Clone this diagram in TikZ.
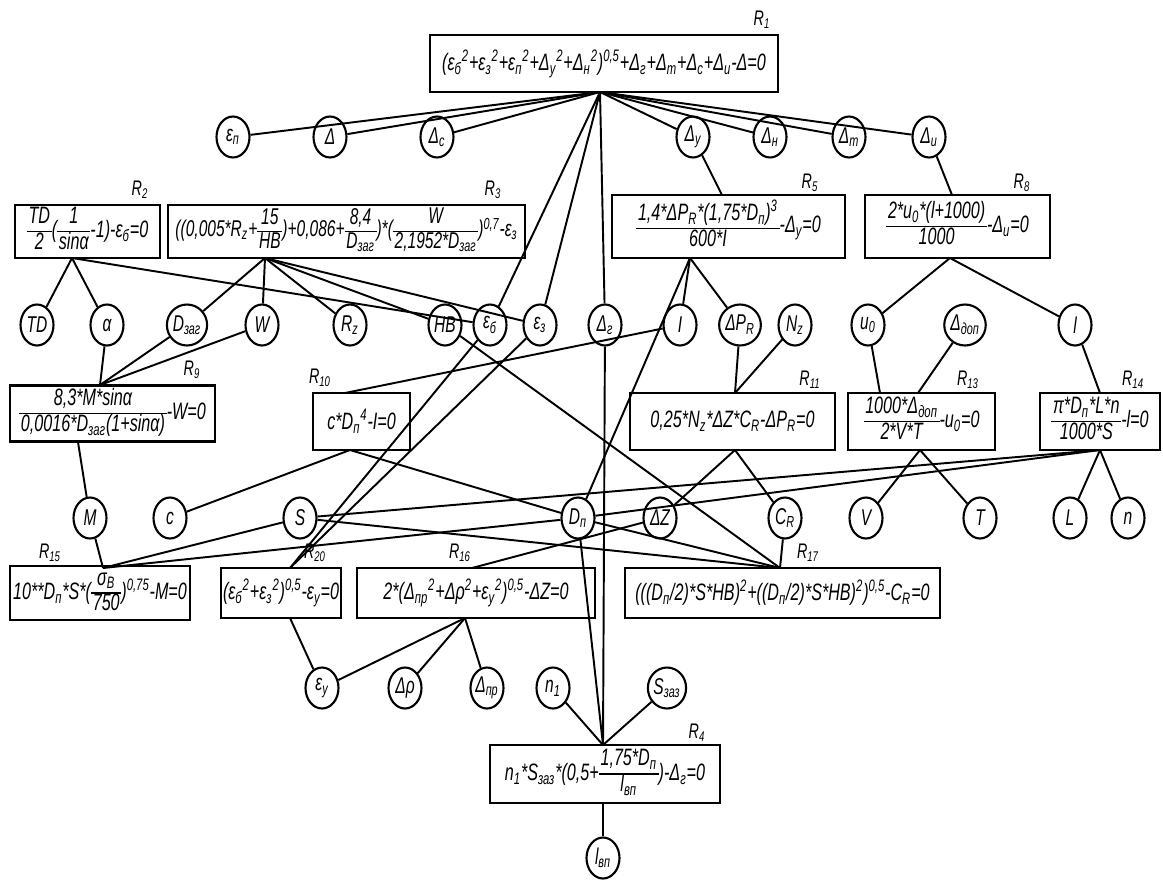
\documentclass[tikz,border=0pt]{standalone}
\usepackage{amsmath}
\usepackage{fontspec}
\setmainfont{Liberation Sans}[FakeStretch=0.68]
\usetikzlibrary{shapes.geometric}

\newcommand{\lo}[1]{\ensuremath{_{\text{#1}}}}
\newcommand{\hi}[1]{\ensuremath{^{\text{#1}}}}
\newcommand{\lohi}[2]{\lo{#1}\hi{#2}}
\newcommand{\fr}[2]{\ensuremath{\vcenter{\hbox{\def\arraystretch{0.92}\setlength{\arrayrulewidth}{0.8pt}\setlength{\tabcolsep}{1pt}\begin{tabular}{c}#1\\\hline #2\end{tabular}}}}}

\begin{document}
\begin{tikzpicture}[x=0.02cm,y=-0.02cm,
  eqn/.style={draw,line width=1.2pt,inner sep=1pt,font=\fontsize{13.5}{15}\selectfont\itshape},
  var/.style={draw,ellipse,line width=1.2pt,minimum width=0.66cm,minimum height=0.82cm,inner sep=0pt,font=\fontsize{13}{15}\selectfont\itshape},
  rlab/.style={font=\fontsize{12}{14}\selectfont\itshape},
  lnk/.style={line width=1.1pt}]
  \useasboundingbox (0,0) rectangle (1163,886);

  % equations
  \node[eqn,minimum width=6.96cm,minimum height=1.14cm] (R1) at (604,63.5) {(ε\lohi{б}{2}+ε\lohi{з}{2}+ε\lohi{п}{2}+Δ\lohi{у}{2}+Δ\lohi{н}{2})\hi{0,5}+Δ\lo{г}+Δ\lo{т}+Δ\lo{с}+Δ\lo{и}-Δ=0};
  \node[eqn,minimum width=2.9cm,minimum height=1.06cm] (R2) at (87.5,231.5) {\fr{TD}{2}(\fr{1}{sinα}-1)-ε\lo{б}=0};
  \node[eqn,minimum width=7.14cm,minimum height=1.06cm,font=\fontsize{13}{14}\selectfont\itshape] (R3) at (346.5,231.5) {((0,005*R\lo{z}+\fr{15}{HB})+0,086+\fr{8,4}{D\lo{заг}})*(\fr{W}{2,1952*D\lo{заг}})\hi{0,7}-ε\lo{з}};
  \node[eqn,minimum width=4.66cm,minimum height=1.26cm] (R5) at (728.5,226.5) {\fr{1,4*ΔP\lo{R}*(1,75*D\lo{п})\hi{3}}{600*I}-Δ\lo{у}=0};
  \node[eqn,minimum width=3.7cm,minimum height=1.26cm] (R8) at (957.5,226.5) {\fr{2*u\lo{0}*(l+1000)}{1000}-Δ\lo{и}=0};
  \node[eqn,minimum width=4.1cm,minimum height=1.12cm] (R9) at (112.5,413.5) {\fr{8,3*M*sinα}{0,0016*D\lo{заг}(1+sinα)}-W=0};
  \node[eqn,minimum width=1.94cm,minimum height=1.14cm] (R10) at (361.5,421.5) {c*D\lohi{п}{4}-I=0};
  \node[eqn,minimum width=4.1cm,minimum height=1.14cm] (R11) at (732.5,421.5) {0,25*N\lo{z}*ΔZ*C\lo{R}-ΔP\lo{R}=0};
  \node[eqn,minimum width=2.94cm,minimum height=1.14cm] (R13) at (921.5,421.5) {\fr{1000*Δ\lo{доп}}{2*V*T}-u\lo{0}=0};
  \node[eqn,minimum width=2.4cm,minimum height=1.14cm] (R14) at (1100,421.5) {\fr{π*D\lo{п}*L*n}{1000*S}-l=0};
  \node[eqn,minimum width=3.6cm,minimum height=1.0cm] (R15) at (100,593) {10**D\lo{п}*S*(\fr{σ\lo{В}}{750})\hi{0,75}-M=0};
  \node[eqn,minimum width=1.96cm,minimum height=1.0cm] (R20) at (281,593) {(ε\lohi{б}{2}+ε\lohi{з}{2})\hi{0,5}-ε\lo{у}=0};
  \node[eqn,minimum width=4.76cm,minimum height=1.0cm] (R16) at (476,593) {2*(Δ\lohi{пр}{2}+Δρ\hi{2}+ε\lohi{у}{2})\hi{0,5}-ΔZ=0};
  \node[eqn,minimum width=6.3cm,minimum height=1.0cm] (R17) at (782.5,593) {(((D\lo{п}/2)*S*HB)\hi{2}+((D\lo{п}/2)*S*HB)\hi{2})\hi{0,5}-C\lo{R}=0};
  \node[eqn,minimum width=4.6cm,minimum height=1.16cm] (R4) at (605,774) {n\lo{1}*S\lo{заз}*(0,5+\fr{1,75*D\lo{п}}{l\lo{вп}})-Δ\lo{г}=0};

  % equation numbers
  \node[rlab] (nR1) at (762,20) {R\lo{1}};
  \node[rlab] (nR2) at (140,190) {R\lo{2}};
  \node[rlab] (nR3) at (493,190) {R\lo{3}};
  \node[rlab] (nR5) at (810,183) {R\lo{5}};
  \node[rlab] (nR8) at (1022,183) {R\lo{8}};
  \node[rlab] (nR9) at (192,370) {R\lo{9}};
  \node[rlab] (nR10) at (320,378) {R\lo{10}};
  \node[rlab] (nR11) at (810,380) {R\lo{11}};
  \node[rlab] (nR13) at (968,380) {R\lo{13}};
  \node[rlab] (nR14) at (1133,380) {R\lo{14}};
  \node[rlab] (nR15) at (50,553) {R\lo{15}};
  \node[rlab] (nR20) at (315,553) {R\lo{20}};
  \node[rlab] (nR16) at (460,553) {R\lo{16}};
  \node[rlab] (nR17) at (808,553) {R\lo{17}};
  \node[rlab] (nR4) at (697,733) {R\lo{4}};

  % variables
  \node[var] (en) at (233,137) {ε\lo{п}};
  \node[var] (d) at (330,137) {Δ};
  \node[var] (dc) at (437,137) {Δ\lo{с}};
  \node[var] (dy) at (693,137) {Δ\lo{у}};
  \node[var] (dn) at (770,137) {Δ\lo{н}};
  \node[var] (dt) at (849,137) {Δ\lo{т}};
  \node[var] (di) at (929,137) {Δ\lo{и}};

  \node[var] (TD) at (37,325) {TD};
  \node[var] (al) at (107,325) {α};
  \node[var] (Dz) at (187,325) {D\lo{заг}};
  \node[var] (W) at (262,325) {W};
  \node[var] (Rz) at (350,325) {R\lo{z}};
  \node[var] (HB) at (445,325) {HB};
  \node[var] (eb) at (490,325) {ε\lo{б}};
  \node[var] (ez) at (540,325) {ε\lo{з}};
  \node[var] (dg) at (605,325) {Δ\lo{г}};
  \node[var] (I) at (680,325) {I};
  \node[var] (dPR) at (740,325) {ΔP\lo{R}};
  \node[var] (Nz) at (795,325) {N\lo{z}};
  \node[var] (u0) at (868,325) {u\lo{0}};
  \node[var] (ddop) at (965,325) {Δ\lo{доп}};
  \node[var] (l) at (1075,325) {l};

  \node[var] (M) at (90,518) {M};
  \node[var] (c) at (170,518) {c};
  \node[var] (S) at (300,518) {S};
  \node[var] (Dp) at (578,518) {D\lo{п}};
  \node[var] (dZ) at (660,518) {ΔZ};
  \node[var] (CR) at (785,518) {C\lo{R}};
  \node[var] (V) at (866,518) {V};
  \node[var] (T) at (980,518) {T};
  \node[var] (L) at (1070,518) {L};
  \node[var] (n) at (1128,518) {n};

  \node[var] (ey) at (322,688) {ε\lo{у}};
  \node[var] (drho) at (405,688) {Δρ};
  \node[var] (dpr) at (487,688) {Δ\lo{пр}};
  \node[var] (n1) at (553,688) {n\lo{1}};
  \node[var] (Sz) at (667,688) {S\lo{заз}};
  \node[var] (lvp) at (603,858) {l\lo{вп}};

  % junction points on the boxes
  \coordinate (R1b) at (600,92);
  \coordinate (R2b) at (72,258);
  \coordinate (R3b) at (265,258);
  \coordinate (R5t) at (722,195);
  \coordinate (R5b) at (690,258);
  \coordinate (R8t) at (952,195);
  \coordinate (R8b) at (950,258);
  \coordinate (R9t) at (100,385);
  \coordinate (R9b) at (78,442);
  \coordinate (R10t) at (345,393);
  \coordinate (R10b) at (350,450);
  \coordinate (R11t) at (735,393);
  \coordinate (R11b) at (735,450);
  \coordinate (R13t) at (880,393);
  \coordinate (R13u) at (918,393);
  \coordinate (R13b) at (920,450);
  \coordinate (R14t) at (1100,393);
  \coordinate (R14b) at (1100,450);
  \coordinate (R15t) at (103,568);
  \coordinate (R20t) at (290,568);
  \coordinate (R20b) at (290,618);
  \coordinate (R16t) at (472,568);
  \coordinate (R16b) at (465,618);
  \coordinate (R17t) at (780,568);
  \coordinate (R4t) at (603,745);
  \coordinate (R4b) at (603,803);

  % links
  \foreach \v in {en,d,dc,dy,dn,dt,di,eb,ez,dg}
    \draw[lnk] (R1b) -- (\v);
  \foreach \v in {TD,al,eb} \draw[lnk] (R2b) -- (\v);
  \foreach \v in {Dz,W,Rz,HB,ez} \draw[lnk] (R3b) -- (\v);
  \draw[lnk] (R5t) -- (dy);
  \foreach \v in {I,dPR,Dp} \draw[lnk] (R5b) -- (\v);
  \draw[lnk] (R8t) -- (di);
  \foreach \v in {u0,l} \draw[lnk] (R8b) -- (\v);
  \foreach \v in {al,Dz,W} \draw[lnk] (R9t) -- (\v);
  \draw[lnk] (R9b) -- (M);
  \draw[lnk] (R10t) -- (I);
  \foreach \v in {c,Dp} \draw[lnk] (R10b) -- (\v);
  \foreach \v in {dPR,Nz} \draw[lnk] (R11t) -- (\v);
  \foreach \v in {dZ,CR} \draw[lnk] (R11b) -- (\v);
  \draw[lnk] (R13t) -- (u0);
  \draw[lnk] (R13u) -- (ddop);
  \foreach \v in {V,T} \draw[lnk] (R13b) -- (\v);
  \draw[lnk] (R14t) -- (l);
  \foreach \v in {L,n,S,Dp} \draw[lnk] (R14b) -- (\v);
  \foreach \v in {M,S,Dp} \draw[lnk] (R15t) -- (\v);
  \foreach \v in {eb,ez} \draw[lnk] (R20t) -- (\v);
  \draw[lnk] (R20b) -- (ey);
  \draw[lnk] (R16t) -- (dZ);
  \foreach \v in {ey,drho,dpr} \draw[lnk] (R16b) -- (\v);
  \foreach \v in {HB,S,Dp,CR} \draw[lnk] (R17t) -- (\v);
  \foreach \v in {dg,Dp,n1,Sz} \draw[lnk] (R4t) -- (\v);
  \draw[lnk] (R4b) -- (lvp);
\end{tikzpicture}
\end{document}
